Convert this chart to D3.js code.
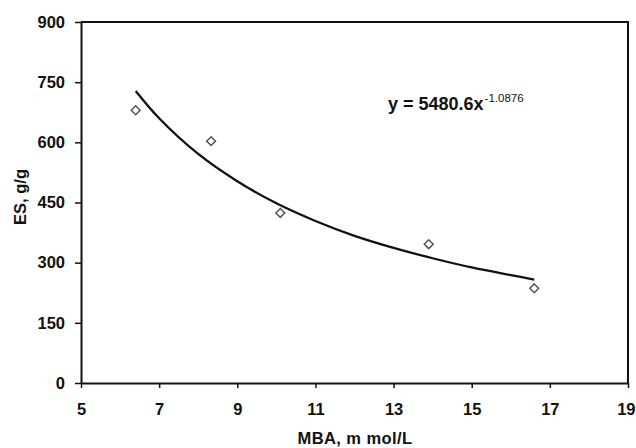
<!DOCTYPE html>
<html>
<head>
<meta charset="utf-8">
<script src="https://cdn.jsdelivr.net/npm/d3@7"></script>
<style>
  html, body { margin: 0; padding: 0; background: #fff; }
  svg { display: block; }
  text { font-family: "Liberation Sans", Arial, sans-serif; font-weight: bold; fill: #111; }
</style>
</head>
<body>
<svg id="chart" width="636" height="448"></svg>
<script>
// Observed data points (MBA, mmol/L vs ES, g/g)
const mbaValues = [6.4, 8.33, 10.1, 13.9, 16.6];
const esValues = [680, 603, 424, 346, 236];

// Power trend line
const trendX = [6.4, 7, 8, 9, 10, 11, 12, 13, 14, 15, 16, 16.6];
const trendY = [728, 660, 571, 503, 448, 404, 367, 337, 311, 288, 269, 258];

const xTicks = [5, 7, 9, 11, 13, 15, 17, 19];
const yTicks = [0, 150, 300, 450, 600, 750, 900];

const xLabel = "MBA, m mol/L";
const yLabel = "ES, g/g";
const eqMain = "y = 5480.6x";
const eqExp = "-1.0876";

const svg = d3.select("#chart");
const mLeft = 81, mRight = 628, mTop = 22, mBottom = 383;

const x = d3.scaleLinear().domain([5, 19]).range([mLeft, mRight]);
const y = d3.scaleLinear().domain([0, 900]).range([mBottom, mTop]);

// Plot border (top and right)
svg.append("path")
  .attr("d", `M${mLeft},${mTop}H${mRight}V${mBottom}`)
  .attr("fill", "none").attr("stroke", "#111").attr("stroke-width", 2);

// X axis
const xAxis = svg.append("g").attr("transform", `translate(0,${mBottom})`)
  .call(d3.axisBottom(x).tickValues(xTicks).tickSize(5).tickSizeOuter(0).tickPadding(15));
// Y axis
const yAxis = svg.append("g").attr("transform", `translate(${mLeft},0)`)
  .call(d3.axisLeft(y).tickValues(yTicks).tickSize(6).tickSizeOuter(0).tickPadding(10));

[xAxis, yAxis].forEach(g => {
  g.select(".domain").attr("stroke", "#111").attr("stroke-width", 2);
  g.selectAll(".tick line").attr("stroke", "#111").attr("stroke-width", 1.5);
  g.selectAll(".tick text").attr("font-size", 16.5).attr("font-weight", "bold")
    .attr("fill", "#111").attr("font-family", "Liberation Sans, Arial, sans-serif");
});
// keep the last x tick label inside the window
xAxis.selectAll(".tick text").filter(d => d === xTicks[xTicks.length - 1])
  .attr("text-anchor", "end").attr("x", 7);

// Axis titles
svg.append("text").attr("x", 355).attr("y", 444).attr("text-anchor", "middle")
  .attr("font-size", 16.5).attr("letter-spacing", 0.4).text(xLabel);
svg.append("text").attr("transform", "translate(26,197) rotate(-90)")
  .attr("text-anchor", "middle").attr("font-size", 16.5).text(yLabel);

// Trend line
const line = d3.line().x((d, i) => x(trendX[i])).y(d => y(d)).curve(d3.curveCatmullRom);
svg.append("path").datum(trendY).attr("d", line)
  .attr("fill", "none").attr("stroke", "#111").attr("stroke-width", 2.3);

// Data points (open diamonds)
const sym = d3.symbol().type(d3.symbolDiamond2).size(50);
svg.selectAll(".pt").data(esValues).enter().append("path")
  .attr("d", sym)
  .attr("transform", (d, i) => `translate(${x(mbaValues[i])},${y(d)})`)
  .attr("fill", "#fff").attr("stroke", "#555").attr("stroke-width", 1.5);

// Equation label
const eq = svg.append("text").attr("x", 388).attr("y", 110).attr("font-size", 18);
eq.append("tspan").text(eqMain);
eq.append("tspan").attr("dy", -8).attr("dx", 1).attr("font-size", 11.5).attr("font-weight", "normal").text(eqExp);
</script>
</body>
</html>
